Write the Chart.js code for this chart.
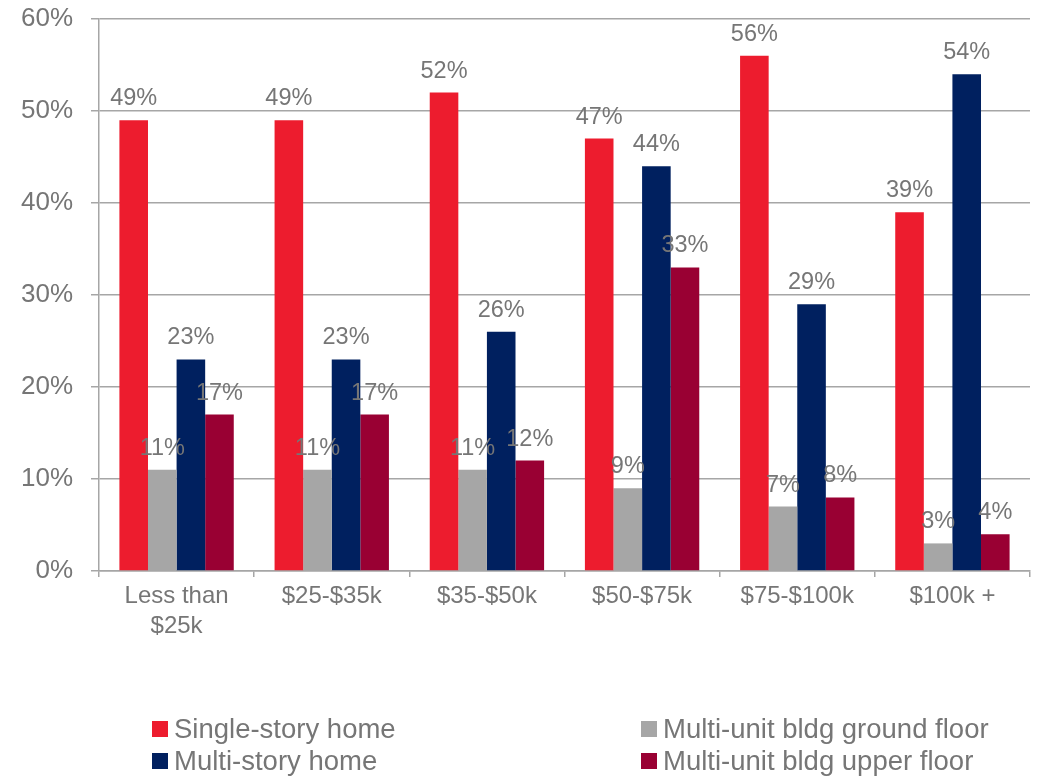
<!DOCTYPE html>
<html>
<head>
<meta charset="utf-8">
<script src="https://cdn.jsdelivr.net/npm/chart.js@4.4.1/dist/chart.umd.min.js"></script>
<style>
  html, body { margin: 0; padding: 0; background: #fff; }
  #wrap { width: 1037px; height: 777px; position: relative; }
</style>
</head>
<body>
<div id="wrap"><canvas id="mycanvas"></canvas></div>
<script>
var incomeGroups = [['Less than', '$25k'], '$25-$35k', '$35-$50k', '$50-$75k', '$75-$100k', '$100k +'];
var singleStory = [49, 49, 52, 47, 56, 39];
var groundFloor = [11, 11, 11, 9, 7, 3];
var multiStory = [23, 23, 26, 44, 29, 54];
var upperFloor = [17, 17, 12, 33, 8, 4];
var yTicks = [0, 10, 20, 30, 40, 50, 60];

var FONT = '"Liberation Sans", Arial, sans-serif';
var TEXT = '#767676';
var GRID = '#a6a6a6';

// value labels above every bar, on top of all datasets
var valueLabels = {
	id: 'valueLabels',
	afterDatasetsDraw: function(chart) {
		var ctx = chart.ctx;
		ctx.save();
		ctx.font = '23.5px ' + FONT;
		ctx.fillStyle = TEXT;
		ctx.textAlign = 'center';
		ctx.textBaseline = 'alphabetic';
		chart.data.datasets.forEach(function(ds, d) {
			chart.getDatasetMeta(d).data.forEach(function(bar, i) {
				ctx.fillText(ds.data[i] + '%', bar.x, bar.y - 15);
			});
		});
		ctx.restore();
	}
};

// two-column legend, filled column by column
var legendBox = {
	id: 'legendBox',
	afterDraw: function(chart) {
		var ctx = chart.ctx;
		var order = [0, 2, 1, 3];
		var colX = [152, 641];
		var rowY = [738, 770];
		ctx.save();
		ctx.font = '27.5px ' + FONT;
		ctx.textBaseline = 'alphabetic';
		order.forEach(function(d, k) {
			var ds = chart.data.datasets[d];
			var x = colX[Math.floor(k / 2)];
			var y = rowY[k % 2];
			ctx.fillStyle = ds.backgroundColor;
			ctx.fillRect(x, y - 17, 16, 16);
			ctx.fillStyle = TEXT;
			ctx.fillText(ds.label, x + 22, y);
		});
		ctx.restore();
	}
};

var chartdata = {
	labels: incomeGroups,
	datasets: [
		{ label: 'Single-story home', backgroundColor: '#ed1c2e', data: singleStory },
		{ label: 'Multi-unit bldg ground floor', backgroundColor: '#a6a6a6', data: groundFloor },
		{ label: 'Multi-story home', backgroundColor: '#00205f', data: multiStory },
		{ label: 'Multi-unit bldg upper floor', backgroundColor: '#990033', data: upperFloor }
	]
};

var ctx = document.getElementById('mycanvas');

var bargraph = new Chart(ctx, {
	type: 'bar',
	data: chartdata,
	plugins: [valueLabels, legendBox],
	options: {
		responsive: true,
		maintainAspectRatio: false,
		animation: false,
		datasets: { bar: { barPercentage: 1, categoryPercentage: 0.737 } },
		layout: { padding: { top: 19, right: 7, left: 0, bottom: 0 } },
		plugins: { legend: { display: false }, tooltip: { enabled: false } },
		scales: {
			x: {
				afterFit: function(s) { s.height = 206; },
				grid: { offset: true, drawOnChartArea: false, color: GRID, lineWidth: 1.5, tickLength: 6 },
				border: { color: GRID, width: 1.5 },
				ticks: { color: TEXT, padding: 4, maxRotation: 0, font: { family: FONT, size: 24, lineHeight: 1.25 } }
			},
			y: {
				min: 0,
				max: 60,
				afterFit: function(s) { s.width = 99; s.paddingTop = 0; s.paddingBottom = 0; },
				afterBuildTicks: function(s) { s.ticks = yTicks.map(function(v) { return { value: v }; }); },
				grid: { color: GRID, lineWidth: 1.5, tickLength: 8 },
				border: { color: GRID, width: 1.5 },
				ticks: {
					color: TEXT,
					padding: 18,
					font: { family: FONT, size: 26, lineHeight: 1.2 },
					callback: function(v) { return v + '%'; }
				}
			}
		}
	}
});
</script>
</body>
</html>
